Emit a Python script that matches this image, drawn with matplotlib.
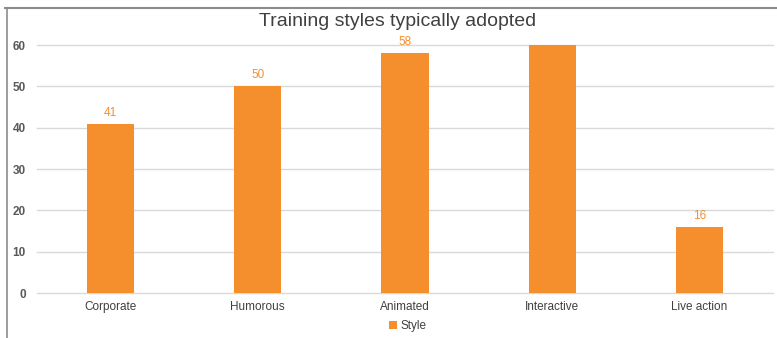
import numpy as np
import matplotlib.pyplot as plt
from matplotlib.lines import Line2D
from matplotlib.patches import Patch

# Survey data
categories = ["Corporate", "Humorous", "Animated", "Interactive", "Live action"]
counts = [41, 50, 58, 62, 16]
series_name = "Style"
title = "Training styles typically adopted"
y_ticks = [0, 10, 20, 30, 40, 50, 60]

orange = "#F58E2C"
grid_col = "#D9D9D9"
text_col = "#404040"

plt.rcParams["font.family"] = ["Liberation Sans", "DejaVu Sans"]

fig = plt.figure(figsize=(7.77, 3.38), dpi=100)
ax = fig.add_axes([37 / 777, 1 - 293 / 338, 736 / 777, 248 / 338])

x = np.arange(len(categories))
ax.bar(x, counts, width=0.32, color=orange, zorder=2)

ymax = y_ticks[-1]
for xi, v in zip(x, counts):
    if v <= ymax - 1:
        ax.text(xi, v + 1.2, str(v), ha="center", va="bottom",
                fontsize=8.5, color=orange)

ax.set_xlim(-0.5, len(categories) - 0.5)
ax.set_ylim(0, ymax)
ax.set_yticks(y_ticks)
for t in y_ticks:
    ax.axhline(t, color=grid_col, linewidth=1, zorder=0, clip_on=False)
for s in ax.spines.values():
    s.set_visible(False)
ax.tick_params(axis="both", length=0)
ax.tick_params(axis="y", labelsize=8.5, labelcolor="#595959", pad=8)
ax.tick_params(axis="x", labelsize=8.5, labelcolor=text_col, pad=6)
ax.set_xticks(x)
ax.set_xticklabels(categories)
for lbl in ax.get_yticklabels():
    lbl.set_fontweight("bold")

fig.text(398 / 777, 1 - 22 / 338, title, ha="center", va="center",
         fontsize=14, color=text_col)

handles = [Patch(facecolor=orange, edgecolor="none", label=series_name)]
fig.legend(handles=handles, loc="center", bbox_to_anchor=(408 / 777, 1 - 326 / 338),
           frameon=False, fontsize=8.5, handlelength=0.7, handleheight=0.7,
           handletextpad=0.3, labelcolor=text_col)

# outer frame: top and left edges
fig.add_artist(Line2D([5 / 777, 1], [1 - 8 / 338, 1 - 8 / 338],
                      transform=fig.transFigure, color="#8C8C8C", linewidth=1.5))
fig.add_artist(Line2D([7 / 777, 7 / 777], [0, 1 - 8 / 338],
                      transform=fig.transFigure, color="#8C8C8C", linewidth=1.2))

fig.savefig("out.png", dpi=100)
